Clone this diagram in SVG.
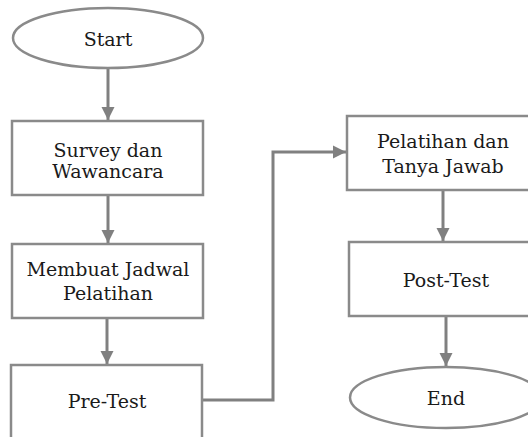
<svg xmlns="http://www.w3.org/2000/svg" width="528" height="437" viewBox="0 0 528 437">
<defs>
<marker id="ah" markerWidth="4.4" markerHeight="4.4" refX="4.4" refY="2.2" orient="auto" markerUnits="strokeWidth">
<path d="M0,0 L4.4,2.2 L0,4.4 Z" fill="#808080"/>
</marker>
<style>
.box{fill:#fff;stroke:#8a8a8a;stroke-width:2.5}
.t{font-family:"DejaVu Serif","Liberation Serif",serif;font-size:19px;fill:#1a1a1a;text-anchor:middle}
.c{fill:none;stroke:#808080;stroke-width:3;marker-end:url(#ah)}
</style>
</defs>
<rect width="528" height="437" fill="#fff"/>
<g id="connectors">
<line class="c" x1="108" y1="68" x2="108" y2="120"/>
<line class="c" x1="108" y1="195" x2="108" y2="243"/>
<line class="c" x1="107" y1="318" x2="107" y2="364"/>
<polyline class="c" points="202,400 273,400 273,152 346,152"/>
<line class="c" x1="443" y1="190" x2="443" y2="241"/>
<line class="c" x1="446" y1="316" x2="446" y2="366"/>
</g>
<g id="start">
<ellipse class="box" cx="108" cy="38" rx="95" ry="30"/>
<text class="t" x="108" y="46">Start</text>
</g>
<g id="survey">
<rect class="box" x="12" y="121" width="191" height="74"/>
<text class="t" x="108" y="157">Survey dan</text>
<text class="t" x="108" y="178">Wawancara</text>
</g>
<g id="jadwal">
<rect class="box" x="12" y="244" width="191" height="74"/>
<text class="t" x="108" y="276">Membuat Jadwal</text>
<text class="t" x="108" y="300">Pelatihan</text>
</g>
<g id="pretest">
<rect class="box" x="11" y="365" width="191" height="76"/>
<text class="t" x="107" y="408">Pre-Test</text>
</g>
<g id="pelatihan">
<rect class="box" x="347" y="116" width="192" height="74"/>
<text class="t" x="443" y="148">Pelatihan dan</text>
<text class="t" x="443" y="173">Tanya Jawab</text>
</g>
<g id="posttest">
<rect class="box" x="349" y="242" width="192" height="74"/>
<text class="t" x="446" y="287">Post-Test</text>
</g>
<g id="end">
<ellipse class="box" cx="446" cy="397.5" rx="96" ry="30.5"/>
<text class="t" x="446" y="405">End</text>
</g>
</svg>
